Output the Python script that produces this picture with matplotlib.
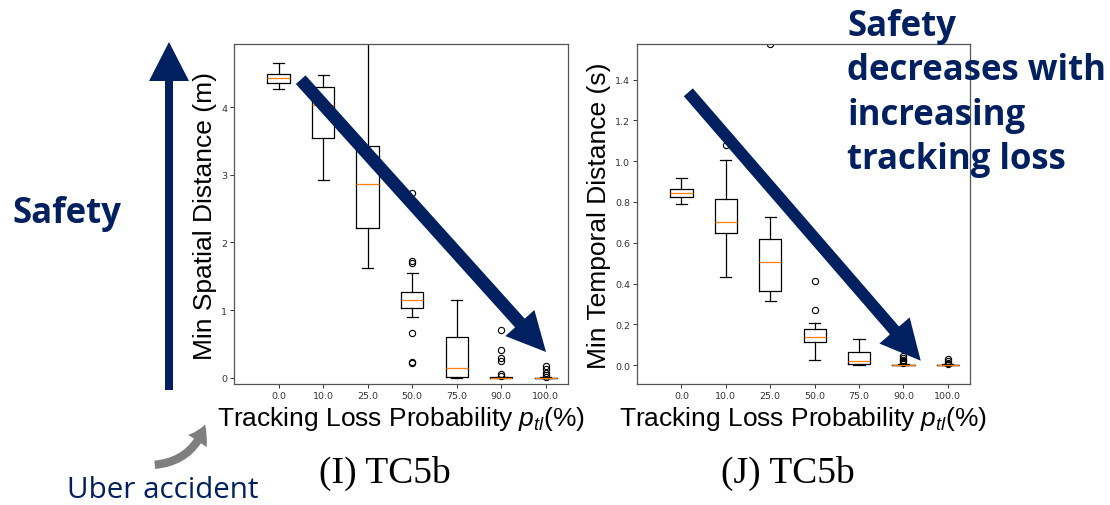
import matplotlib
matplotlib.use("Agg")
import matplotlib.pyplot as plt
from matplotlib.patches import FancyArrow, FancyArrowPatch

plt.rcParams['mathtext.fontset'] = 'custom'
plt.rcParams['mathtext.rm'] = 'Liberation Sans'
plt.rcParams['mathtext.it'] = 'Liberation Sans:italic'

# tracking loss probabilities (%)
probs = [0.0, 10.0, 25.0, 50.0, 75.0, 90.0, 100.0]

# min spatial distance (m), box stats
sp_whislo = [4.26, 2.92, 1.62, 0.90, 0.005, 0.0, 0.0]
sp_q1 = [4.36, 3.54, 2.21, 1.03, 0.02, 0.0, 0.0]
sp_med = [4.43, 4.03, 2.87, 1.15, 0.14, 0.0, 0.0]
sp_q3 = [4.48, 4.30, 3.43, 1.27, 0.605, 0.01, 0.005]
sp_whishi = [4.65, 4.47, 5.30, 1.55, 1.15, 0.02, 0.01]
sp_fliers = [[], [], [], [2.73, 1.73, 1.70, 0.66, 0.235, 0.22], [],
             [0.71, 0.41, 0.295, 0.25, 0.06, 0.035],
             [0.17, 0.13, 0.08, 0.045, 0.01]]

# min temporal distance (s)
tm_whislo = [0.79, 0.43, 0.314, 0.025, 0.0, 0.0, 0.0]
tm_q1 = [0.823, 0.646, 0.361, 0.113, 0.003, 0.0, 0.0]
tm_med = [0.842, 0.70, 0.504, 0.14, 0.018, 0.0, 0.0]
tm_q3 = [0.864, 0.813, 0.618, 0.175, 0.062, 0.002, 0.002]
tm_whishi = [0.916, 1.006, 0.726, 0.206, 0.128, 0.004, 0.003]
tm_fliers = [[], [1.08], [1.575], [0.414, 0.27], [],
             [0.046, 0.036, 0.027, 0.018, 0.01],
             [0.03, 0.02, 0.012, 0.005]]

note_lines = ['Safety', 'decreases with', 'increasing', 'tracking loss']

NAVY = '#002060'
W, H = 1110, 506


def make_stats(lo, q1, med, q3, hi, fl):
    return [dict(whislo=a, q1=b, med=c, q3=d, whishi=e, fliers=f)
            for a, b, c, d, e, f in zip(lo, q1, med, q3, hi, fl)]


def draw_box(ax, stats, ylim, yticks):
    ax.bxp(stats, positions=range(1, len(probs) + 1), widths=0.5,
           boxprops=dict(color='black', lw=0.9),
           whiskerprops=dict(color='black', lw=0.9),
           capprops=dict(color='black', lw=0.9),
           medianprops=dict(color='#ff7f0e', lw=0.9),
           flierprops=dict(marker='o', markerfacecolor='none',
                           markeredgecolor='black', markersize=4.5, mew=0.8))
    ax.set_xlim(0, 7.5)
    ax.set_ylim(*ylim)
    ax.set_yticks(yticks)
    ax.set_xticks(range(1, len(probs) + 1))
    ax.set_xticklabels([str(p) for p in probs])
    ax.tick_params(labelsize=6.8, length=3, width=0.7, pad=2, colors='#333333')
    for s in ax.spines.values():
        s.set_color('#555555')
        s.set_linewidth(0.9)


fig = plt.figure(figsize=(W / 100, H / 100), dpi=100)

ax1 = fig.add_axes([234 / W, 1 - 385 / H, 334 / W, 340 / H])
draw_box(ax1, make_stats(sp_whislo, sp_q1, sp_med, sp_q3, sp_whishi, sp_fliers),
         (-0.089, 4.93), [0, 1, 2, 3, 4])
ax1.set_yticklabels(['0', '1', '2', '3', '4'])

ax2 = fig.add_axes([637 / W, 1 - 385 / H, 333 / W, 340 / H])
draw_box(ax2, make_stats(tm_whislo, tm_q1, tm_med, tm_q3, tm_whishi, tm_fliers),
         (-0.093, 1.575), [0.0, 0.2, 0.4, 0.6, 0.8, 1.0, 1.2, 1.4])
ax2.set_yticklabels(['0.0', '0.2', '0.4', '0.6', '0.8', '1.0', '1.2', '1.4'])

# overlay in pixel coords for labels, arrows and notes
ov = fig.add_axes([0, 0, 1, 1], zorder=10)
ov.set_xlim(0, W)
ov.set_ylim(H, 0)
ov.axis('off')
ov.patch.set_alpha(0)

lab = dict(family='Liberation Sans', fontsize=19, color='black')
ov.text(205, 216, 'Min Spatial Distance (m)', rotation=90, ha='center', va='center', **lab)
ov.text(599, 216, 'Min Temporal Distance (s)', rotation=90, ha='center', va='center', **lab)
ov.text(401, 426, r'Tracking Loss Probability $p_{tl}$(%)', ha='center', va='baseline', **lab)
ov.text(803, 426, r'Tracking Loss Probability $p_{tl}$(%)', ha='center', va='baseline', **lab)

cap = dict(family='Liberation Serif', fontsize=27, color='black', va='baseline', ha='center')
ov.text(385, 483, '(I) TC5b', **cap)
ov.text(788, 483, '(J) TC5b', **cap)

# safety arrows
ov.add_patch(FancyArrow(169, 391, 0, -348, width=8, head_width=40, head_length=39,
                        length_includes_head=True, color=NAVY, lw=0))
ov.add_patch(FancyArrow(300.7, 80.7, 245.3, 272.3, width=13, head_width=39, head_length=39,
                        length_includes_head=True, color=NAVY, lw=0))
ov.add_patch(FancyArrow(688.3, 93.3, 232.4, 268.4, width=12, head_width=40, head_length=40,
                        length_includes_head=True, color=NAVY, lw=0))

note = dict(family='Open Sans', fontweight='bold', fontsize=25, color=NAVY,
            va='baseline', ha='left')
ov.text(12, 223, 'Safety', **note)
for i, line in enumerate(note_lines):
    ov.text(847, 36 + 44.3 * i, line, **note)

ov.add_patch(FancyArrowPatch((152, 466), (206, 423), connectionstyle='arc3,rad=0.35',
                             arrowstyle='simple,head_length=13,head_width=16,tail_width=6',
                             mutation_scale=1, color='#7f7f7f', lw=0))
ov.text(67, 498, 'Uber accident', family='Open Sans', fontsize=21.3, color=NAVY,
        va='baseline', ha='left')

fig.savefig('out.png', dpi=100)
